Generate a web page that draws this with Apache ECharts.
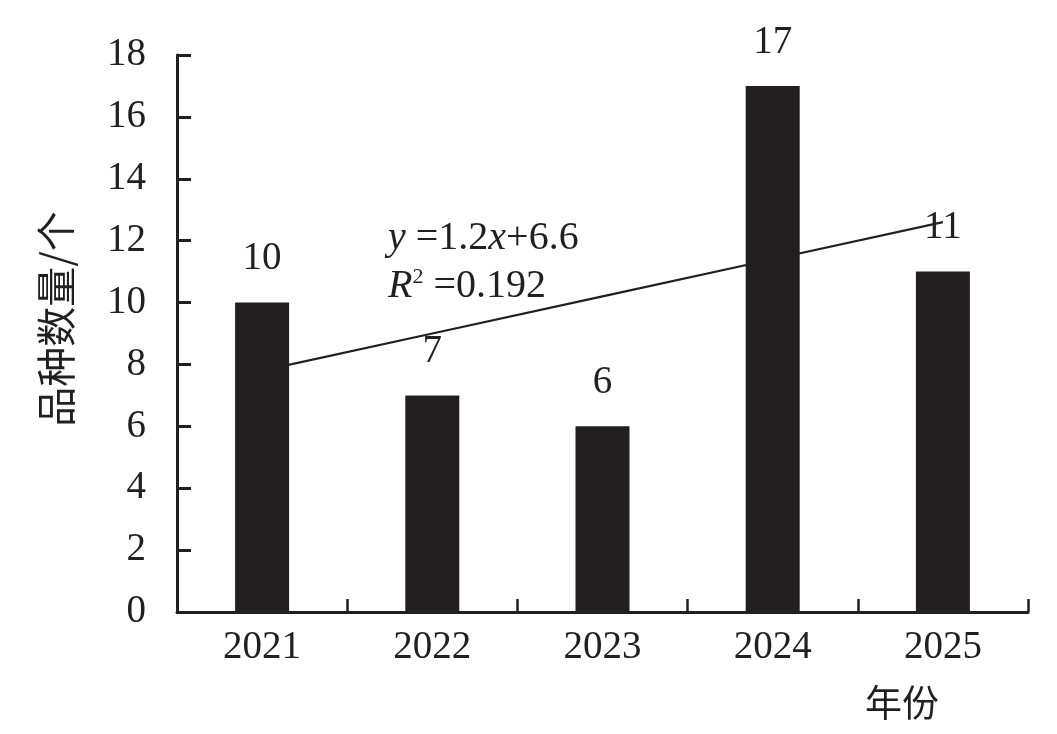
<!DOCTYPE html>
<html>
<head>
<meta charset="utf-8">
<script src="https://cdn.jsdelivr.net/npm/echarts@6/dist/echarts.min.js"></script>
<style>
html,body{margin:0;padding:0;background:#fff;}
#c{width:1057px;height:734px;}
</style>
</head>
<body>
<div id="c"></div>
<script>
var categories = ['2021', '2022', '2023', '2024', '2025'];
var counts = [10, 7, 6, 17, 11];
var trendValues = [7.8, 9.0, 10.2, 11.4, 12.6];
var yTicks = {min: 0, max: 18, interval: 2};
var yAxisTitle = '品种数量/个';
var xAxisTitle = '年份';

var ink = '#231f20';
var serif = '"Liberation Serif","Times New Roman",serif';
var cjk = '"Noto Sans CJK SC","Noto Sans CJK JP",sans-serif';

var chart = echarts.init(document.getElementById('c'));
chart.setOption({
  animation: false,
  backgroundColor: '#fff',
  grid: {left: 177, right: 29, top: 55, bottom: 122, containLabel: false},
  xAxis: {
    type: 'category',
    data: categories,
    axisLine: {lineStyle: {color: ink, width: 3}},
    axisTick: {show: true, inside: true, length: 13, lineStyle: {color: ink, width: 2.5}},
    axisLabel: {color: ink, fontFamily: serif, fontSize: 39, margin: 16}
  },
  yAxis: {
    type: 'value',
    min: yTicks.min, max: yTicks.max, interval: yTicks.interval,
    splitLine: {show: false},
    axisLine: {show: true, lineStyle: {color: ink, width: 3}},
    axisTick: {show: true, inside: true, length: 14, lineStyle: {color: ink, width: 3}},
    axisLabel: {color: ink, fontFamily: serif, fontSize: 39, margin: 31}
  },
  series: [
    {
      type: 'line',
      data: trendValues,
      z: 1,
      symbol: 'none',
      lineStyle: {color: ink, width: 2.2},
      silent: true
    },
    {
      type: 'bar',
      data: counts,
      z: 3,
      barWidth: 54,
      itemStyle: {color: ink},
      label: {show: true, position: 'top', distance: 24, color: ink, fontFamily: serif, fontSize: 39}
    }
  ],
  graphic: [
    {
      type: 'text',
      x: 56, y: 319,
      rotation: Math.PI / 2,
      style: {text: yAxisTitle, font: '40px ' + cjk, fill: ink, align: 'center', verticalAlign: 'middle'}
    },
    {
      type: 'text',
      x: 902, y: 703,
      style: {text: xAxisTitle, font: '37px ' + cjk, fill: ink, align: 'center', verticalAlign: 'middle'}
    },
    {
      type: 'text',
      x: 388, y: 258,
      style: {
        text: '{i|y} =1.2{i|x}+6.6',
        font: '40px ' + serif,
        fill: ink,
        verticalAlign: 'bottom',
        rich: {i: {fontStyle: 'italic', fontFamily: serif, fontSize: 40, fill: ink}}
      }
    },
    {
      type: 'text',
      x: 388, y: 306,
      style: {
        text: '{i|R}{s|2} =0.192',
        font: '40px ' + serif,
        fill: ink,
        verticalAlign: 'bottom',
        rich: {
          i: {fontStyle: 'italic', fontFamily: serif, fontSize: 40, fill: ink},
          s: {fontFamily: serif, fontSize: 22, fill: ink, verticalAlign: 'top', padding: [0, 0, 16, 0]}
        }
      }
    }
  ]
});
</script>
</body>
</html>
